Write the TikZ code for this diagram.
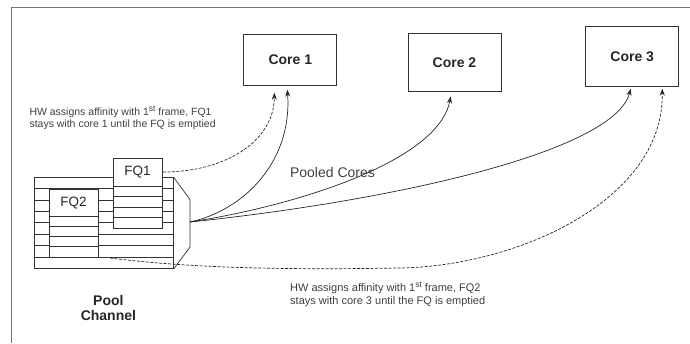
\documentclass[tikz,border=0pt]{standalone}
\usepackage{fontspec}
\setmainfont{Liberation Sans}
\usetikzlibrary{arrows.meta,positioning}
\newcommand{\supst}{\raisebox{3.8pt}{\fontsize{8.5}{9}\selectfont st}}
\begin{document}
\begin{tikzpicture}
  [x=1pt, y=-1pt,
   core/.style={rectangle, draw=black!80, line width=0.8pt, minimum width=93pt, inner sep=0pt,
                font=\fontsize{14}{16}\selectfont\bfseries, text=black!85},
   fqbox/.style={rectangle, draw=black!80, fill=white, line width=0.7pt, anchor=north west, inner sep=0pt},
   fqlabel/.style={inner sep=0pt, font=\fontsize{13.5}{16}\selectfont, text=black!85},
   row/.style={line width=0.7pt, draw=black!80},
   note/.style={align=left, anchor=west, inner sep=0pt, text=black!75},
   link/.style={line width=0.7pt, draw=black!85, -{Stealth[length=7pt,width=5pt]}},
   linkdash/.style={link, dash pattern=on 3pt off 1.5pt},
   frame/.style={line width=1pt, draw=black!55}]

  \useasboundingbox (0,0) rectangle (690,343);

  % Marco
  \draw[frame] (11,343) -- (11,7) -- (690,7);

  % Cores
  \node[core, minimum height=51pt]   (core1) at (290.3,59.5) {Core 1};
  \node[core, minimum height=58.4pt] (core2) at (454.5,62.5) {Core 2};
  \node[core, minimum height=59.3pt] (core3) at (632.2,56.3) {Core 3};

  % Pool
  \node[fqbox, minimum width=139.5pt, minimum height=91pt, fill=none] (pool) at (33.5,177.3) {};
  \foreach \k in {1,...,7}
    \draw[row] (33.5,{177.3+\k*11.375}) -- (173,{177.3+\k*11.375});
  \draw[row] (pool.north east) -- (190,199.5) -- (190,247) -- (pool.south east);
  \coordinate (tap) at (190,222);
  \coordinate (fq2out) at (110,258);

  % FQ2
  \node[fqbox, minimum width=48.2pt, minimum height=67.4pt] (fq2) at (49.3,189.3) {};
  \node[fqlabel] (fq2lbl) at (73.4,202.6) {FQ2};
  \foreach \y in {216,226.4,236.6,246.7}
    \draw[row] (49.3,\y) -- (97.5,\y);

  % FQ1
  \node[fqbox, minimum width=49.8pt, minimum height=69.2pt] (fq1) at (112.5,158.3) {};
  \node[fqlabel] (fq1lbl) at (137.4,172) {FQ1};
  \foreach \y in {186,196.5,207,217.2}
    \draw[row] (112.5,\y) -- (162.3,\y);

  % Textos
  \node[note, font=\fontsize{10.5}{12}\selectfont] (note1) at (29.3,117.5)
    {HW assigns affinity with 1\supst{} frame, FQ1\\stays with core 1 until the FQ is emptied};
  \node[note, font=\fontsize{11}{13}\selectfont] (note2) at (290,294)
    {HW assigns affinity with 1\supst{} frame, FQ2\\stays with core 3 until the FQ is emptied};
  \node[inner sep=0pt, font=\fontsize{14}{16}\selectfont, text=black!75] (pooled) at (332.5,172.7) {Pooled Cores};
  \node[align=center, inner sep=0pt, font=\fontsize{14}{15}\selectfont\bfseries, text=black!85] (poolname) at (108.4,307.5) {Pool\\Channel};

  % Conexiones
  \draw[link] (tap) .. controls +(55,-12) and +(5,71) .. ([xshift=-3pt,yshift=-4.3pt]core1.south);
  \draw[linkdash] (fq1lbl -| fq1.east) .. controls +(63,0) and +(0,48) .. ([xshift=-16pt,yshift=-7.3pt]core1.south);
  \draw[link] (tap) .. controls +(110,-17) and +(-12,64) .. ([xshift=-3.8pt,yshift=-4.3pt]core2.south);
  \draw[link] (tap) .. controls +(210,-22) and +(-16,62) .. ([xshift=-1.5pt,yshift=-2.3pt]core3.south);
  \coordinate (dip) at (400,268);
  \draw[linkdash] (fq2out) .. controls +(80,10) and +(-120,2) .. (dip)
    .. controls +(120,-2) and +(2,110) .. ([xshift=30pt,yshift=-2.3pt]core3.south);
\end{tikzpicture}
\end{document}
